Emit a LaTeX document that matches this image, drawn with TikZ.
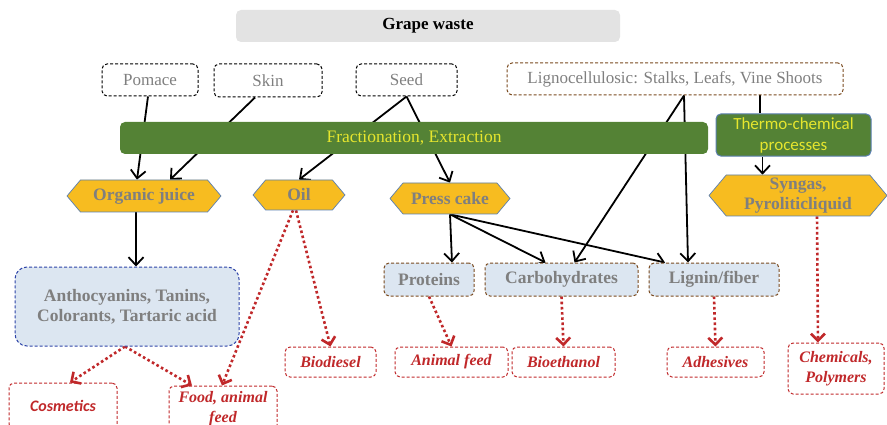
\documentclass[tikz,border=0pt]{standalone}
\usepackage{fontspec}
\setmainfont{Liberation Serif}
\newfontfamily\timesfont{Liberation Serif}
\newfontfamily\calibrifont{Carlito}
\usetikzlibrary{shapes.symbols,arrows.meta,backgrounds}

\definecolor{headgray}{HTML}{E3E3E3}
\definecolor{txtgray}{HTML}{7F7F7F}
\definecolor{barGreen}{HTML}{548235}
\definecolor{barText}{HTML}{E6E62E}
\definecolor{juiceOrange}{HTML}{F7BC20}
\definecolor{edgeBlue}{HTML}{5B7FB0}
\definecolor{paleBlue}{HTML}{DCE6F1}
\definecolor{darkBlue}{HTML}{2E44A8}
\definecolor{woodBrown}{HTML}{7A4A1E}
\definecolor{useRed}{HTML}{C0282A}

\begin{document}
\begin{tikzpicture}[x=1pt,y=-1pt,
  headbox/.style={fill=headgray,rounded corners=5pt,font=\timesfont\fontsize{17}{20}\selectfont\bfseries},
  srcbox/.style={draw,line width=1pt,dash pattern=on 3pt off 2pt,rounded corners=5pt,
    text=txtgray,font=\timesfont\fontsize{17}{20}\selectfont},
  procbar/.style={fill=barGreen,rounded corners=5pt,text=barText,font=\timesfont\fontsize{17.5}{20}\selectfont},
  juicebox/.style={signal,signal to=west and east,signal pointer angle=100,fill=juiceOrange,
    draw=edgeBlue,line width=0.7pt,text=txtgray,align=center,inner sep=1pt,
    font=\timesfont\fontsize{17.5}{20}\selectfont\bfseries},
  partbox/.style={draw=woodBrown,fill=paleBlue,line width=1pt,dash pattern=on 3pt off 2pt,
    rounded corners=5pt,text=txtgray,font=\timesfont\fontsize{17.5}{20}\selectfont\bfseries},
  usebox/.style={draw=useRed,line width=1pt,dash pattern=on 3pt off 2pt,rounded corners=5pt,
    text=useRed,align=center,font=\timesfont\fontsize{16}{20}\selectfont\bfseries\itshape},
  flow/.style={line width=1.8pt,-{Straight Barb[length=8pt,width=15pt]}},
  useflow/.style={useRed,line width=2.6pt,dash pattern=on 2.6pt off 2.6pt,
    -{Straight Barb[length=7pt,width=14pt]}}
]
  \clip (0,0) rectangle (887,425);

  % Top
  \node[headbox,minimum width=384pt,minimum height=32pt] (grape) at (428,26) {Grape waste};

  % Raw fractions
  \node[srcbox,minimum width=96pt,minimum height=32pt] (pomace) at (150,80) {Pomace};
  \node[srcbox,minimum width=108pt,minimum height=33pt] (skin) at (268,80.5) {Skin};
  \node[srcbox,minimum width=101pt,minimum height=32pt] (seed) at (406.5,80) {Seed};
  \node[srcbox,draw=woodBrown,minimum width=336pt,minimum height=32pt] (ligno) at (675,79)
    {Lignocellulosic: Stalks, Leafs, Vine Shoots};

  % Processes
  \node[procbar,minimum width=588pt,minimum height=32pt] (frac) at (414,138) {Fractionation, Extraction};
  \node[procbar,draw=edgeBlue,line width=1pt,align=center,minimum width=155pt,minimum height=38pt,
    font=\calibrifont\fontsize{17}{21}\selectfont] (thermo) at (793.5,135) {Thermo-chemical\\processes};

  % Intermediate products
  \node[juicebox,minimum width=154pt,minimum height=32pt] (juice) at (144,196) {Organic juice};
  \node[juicebox,minimum width=92pt,minimum height=30pt] (oil) at (299,195) {Oil};
  \node[juicebox,minimum width=120pt,minimum height=31pt] (press) at (450,198.5) {Press cake};
  \node[juicebox,minimum width=178pt,minimum height=41pt] (syngas) at (798,195.5) {Syngas,\\Pyroliticliquid};

  % Compounds
  \node[partbox,draw=darkBlue,rounded corners=12pt,align=center,minimum width=224pt,minimum height=79pt]
    (antho) at (127,306.5) {Anthocyanins, Tanins,\\Colorants, Tartaric acid};
  \node[partbox,minimum width=90pt,minimum height=33pt] (proteins) at (429,279.5) {Proteins};
  \node[partbox,minimum width=153pt,minimum height=33pt] (carbo) at (561.5,279.5) {Carbohydrates};
  \node[partbox,minimum width=130pt,minimum height=33pt] (lignin) at (714,279.5) {Lignin/fiber};

  % Uses
  \node[usebox,minimum width=91pt,minimum height=30pt] (biodiesel) at (330.5,362) {Biodiesel};
  \node[usebox,minimum width=113pt,minimum height=30pt] (animal) at (451.5,362) {Animal feed};
  \node[usebox,minimum width=103pt,minimum height=30pt] (bioethanol) at (563.5,362) {Bioethanol};
  \node[usebox,minimum width=97pt,minimum height=30pt] (adhesives) at (715.5,362) {Adhesives};
  \node[usebox,minimum width=96pt,minimum height=51pt] (chemicals) at (836,368.5) {Chemicals,\\Polymers};
  \node[usebox,minimum width=108pt,minimum height=46pt,font=\calibrifont\fontsize{16}{20}\selectfont\bfseries\itshape]
    (cosmetics) at (63,406) {Cosmetics};
  \node[usebox,minimum width=108pt,minimum height=46pt] (food) at (223,409) {Food, animal\\feed};

  % Connectors
  \coordinate (lg) at ([xshift=85pt]ligno.south);
  \coordinate (ts) at ([xshift=-31pt]thermo.south);
  \coordinate (js) at ([xshift=-8pt]juice.south);
  \begin{scope}[on background layer]
    \draw[flow] ([xshift=-2pt]pomace.south) -- ([xshift=-7pt]juice.north);
    \draw[flow] ([xshift=-13pt]skin.south) -- ([xshift=26pt]juice.north);
    \draw[flow] (seed.south) -- (oil.north);
    \draw[flow] (seed.south) -- (press.north);
    \draw[flow] ([xshift=9pt]ligno.south) -- ([xshift=13pt]carbo.north);
    \draw[flow] ([xshift=9pt]ligno.south) -- ([xshift=-26pt]lignin.north);
    \draw[line width=1.8pt] (lg) -- (lg |- thermo.north);
    \draw[flow] (ts) -- (ts |- syngas.north);
    \draw[flow] (js) -- (js |- antho.north);
    \draw[flow] (press.south) -- ([xshift=23pt]proteins.north);
    \draw[flow] (press.south) -- ([xshift=-16pt]carbo.north);
    \draw[flow] (press.south) -- ([xshift=-49pt]lignin.north);

    \draw[useflow] ([xshift=-2pt]antho.south) -- ([xshift=7pt]cosmetics.north);
    \draw[useflow] ([xshift=-2pt]antho.south) -- ([xshift=-31pt]food.north);
    \draw[useflow] ([xshift=-6pt]oil.south) -- ([xshift=-1pt]food.north);
    \draw[useflow] ([xshift=-3pt]oil.south) -- (biodiesel.north);
    \draw[useflow] (proteins.south) -- (animal.north);
    \draw[useflow] (carbo.south) -- (bioethanol.north);
    \draw[useflow] (lignin.south) -- (adhesives.north);
    \draw[useflow] ([xshift=19pt]syngas.south) -- ([xshift=-18pt]chemicals.north);
  \end{scope}
\end{tikzpicture}
\end{document}
